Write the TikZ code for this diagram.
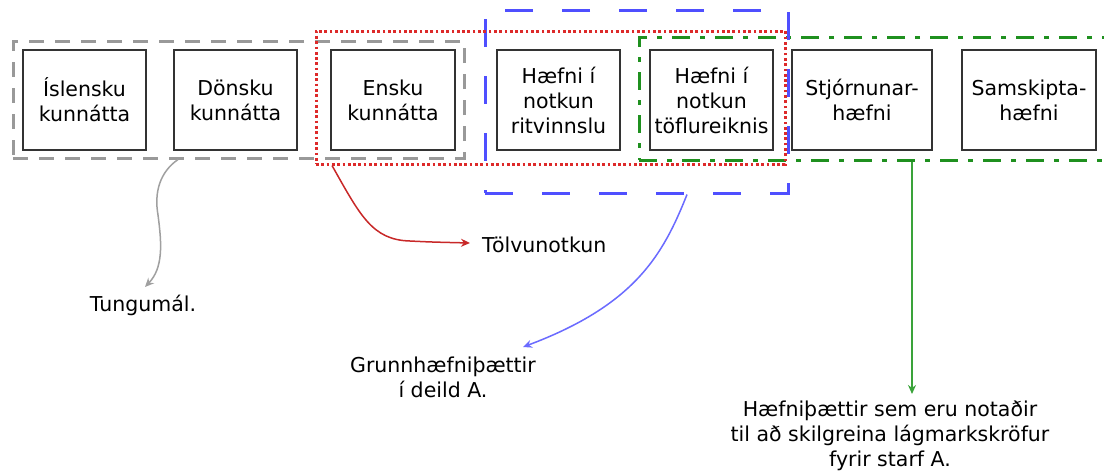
\documentclass[tikz,border=0pt]{standalone}
\usepackage{fontspec}
\setmainfont{DejaVu Sans}
\usetikzlibrary{arrows.meta,calc}
\definecolor{cgray}{HTML}{999999}
\definecolor{cred}{HTML}{DD2A2A}
\definecolor{cblue}{HTML}{4F4FFF}
\definecolor{cgreen}{HTML}{1F901F}
\definecolor{agray}{HTML}{A0A0A0}
\definecolor{ared}{HTML}{C82828}
\definecolor{ablue}{HTML}{6B6BFF}
\definecolor{agreen}{HTML}{3AA33A}
\definecolor{boxline}{HTML}{333333}
\tikzset{
  txt/.style={font=\fontsize{20.5}{25}\selectfont, align=center, inner sep=0pt},
  skill/.style={txt, draw=boxline, line width=2pt, minimum height=100pt},
  grp/.style={inner sep=0pt, line width=3pt},
  grpgray/.style={grp, draw=cgray, dash pattern=on 15pt off 11pt},
  grpred/.style={grp, draw=cred, line width=3pt, dash pattern=on 2.7pt off 2.6pt},
  grpblue/.style={grp, draw=cblue, dash pattern=on 28pt off 29pt},
  grpgreen/.style={grp, draw=cgreen, dash pattern=on 18pt off 10pt on 5pt off 10pt},
  conn/.style={line width=1.5pt, -{Stealth[length=9pt,width=8pt]}},
}
\begin{document}
\begin{tikzpicture}[x=1pt,y=-1pt]
\useasboundingbox[fill=white] (0,0) rectangle (1104,472);
% group frames
\node[grpgray, minimum width=451pt, minimum height=117pt] (ggray) at (238.5,99.5) {};
\node[grpgreen, minimum width=480pt, minimum height=123pt] (ggreen) at (879,98.5) {};
\node[grpblue, minimum width=303pt, minimum height=183pt] (gblue) at (636.5,101.5) {};
\node[grpred, minimum width=469pt, minimum height=133pt] (gred) at (550.5,97.5) {};
% skill boxes
\node[skill, minimum width=123pt] (b1) at (84.5,100) {Íslensku\\kunnátta};
\node[skill, minimum width=123pt] (b2) at (235.5,100) {Dönsku\\kunnátta};
\node[skill, minimum width=124pt] (b3) at (393,100) {Ensku\\kunnátta};
\node[skill, minimum width=123pt] (b4) at (558.5,100) {Hæfni í\\notkun\\ritvinnslu};
\node[skill, minimum width=123pt] (b5) at (711.5,100) {Hæfni í\\notkun\\töflureiknis};
\node[skill, minimum width=140pt] (b6) at (862,100) {Stjórnunar-\\hæfni};
\node[skill, minimum width=134pt] (b7) at (1029,100) {Samskipta-\\hæfni};
% labels
\node[txt] (ltung) at (143,305) {Tungumál.};
\node[txt, anchor=west] (ltolv) at (482,245) {Tölvunotkun};
\node[txt] (lgrunn) at (443,377) {Grunnhæfniþættir\\í deild A.};
\node[txt] (lstarf) at (890,436) {Hæfniþættir sem eru notaðir\\til að skilgreina lágmarkskröfur\\fyrir starf A.};
% connector start points on frames
\coordinate (sgray) at (ggray.south -| 178,0);
\coordinate (sred) at (gred.south -| 332,0);
\coordinate (sblue) at (gblue.south -| 687,0);
\coordinate (sgreen) at (ggreen.south -| 912,0);
\coordinate (egray) at (145,287);
\coordinate (ered) at (470,243);
\coordinate (eblue) at (523,347);
\coordinate (egreen) at (912,394);
% connectors
\draw[conn, agray] (sgray) .. controls (160,172) and (154,192) .. (158,215)
   .. controls (162,245) and (163,268) .. (egray);
\draw[conn, ared] (sred) .. controls (360,215) and (372,240) .. (410,241)
   .. controls (430,242) .. (ered);
\draw[conn, ablue] (sblue) .. controls (663,255) and (635,305) .. (eblue);
\draw[conn, agreen] (sgreen) -- (egreen);
\end{tikzpicture}
\end{document}
